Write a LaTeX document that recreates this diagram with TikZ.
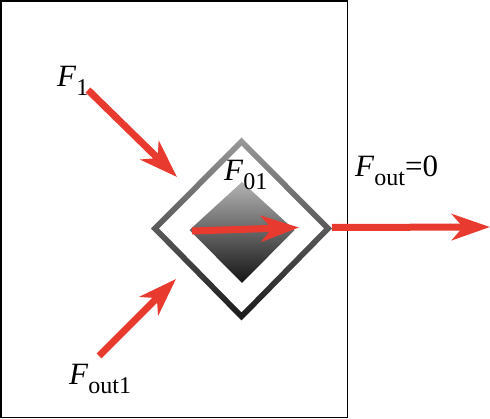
\documentclass[tikz,border=0pt]{standalone}
\usepackage{fontspec}
\setmainfont{Liberation Serif}
\usetikzlibrary{arrows.meta}
\definecolor{fred}{RGB}{232,58,46}
\newcommand{\Flab}[1]{\textit{F}\raisebox{-0.27em}{\fontsize{24}{24}\selectfont #1}}
\begin{document}
\begin{tikzpicture}[x=1pt,y=-1pt,
  force/.style={draw=fred,line width=7pt,-{Stealth[length=38pt,width=26pt,inset=11pt]}},
  lab/.style={font=\fontsize{31}{36}\selectfont,inner sep=0pt}]
\useasboundingbox (0,0) rectangle (490,419);
\draw[line width=1.6pt] (0.8,0.8) rectangle (347.5,417.5);
% outer diamond ring
\shade[even odd rule,top color=black!40,bottom color=black!90]
  (241.5,137.5) -- (332,228.5) -- (241.5,320.5) -- (151,228.5) -- cycle
  (241.5,145.5) -- (324,228.5) -- (241.5,312.5) -- (159,228.5) -- cycle;
% inner diamond
\shade[top color=black!30,bottom color=black!92]
  (242,182) -- (294.5,230) -- (242,283) -- (189.5,230) -- cycle;
\coordinate (c1s) at (88,90);
\coordinate (c1e) at (177,177);
\coordinate (c2s) at (99,356);
\coordinate (c2e) at (176,279);
\coordinate (c3s) at (192,231);
\coordinate (c3e) at (299,227.5);
\coordinate (c4s) at (332,227.5);
\coordinate (c4e) at (490,227);
\draw[force] (c1s) -- (c1e);
\draw[force] (c2s) -- (c2e);
\draw[force] (c3s) -- (c3e);
\draw[force] (c4s) -- (c4e);
\node[lab,anchor=base west] (l1) at (57,87) {\Flab{1}};
\node[lab,anchor=base west] (l2) at (224,181) {\Flab{01}};
\node[lab,anchor=base west] (l3) at (355,177) {\Flab{out}=0};
\node[lab,anchor=base west] (l4) at (69,385) {\Flab{out1}};
\end{tikzpicture}
\end{document}
